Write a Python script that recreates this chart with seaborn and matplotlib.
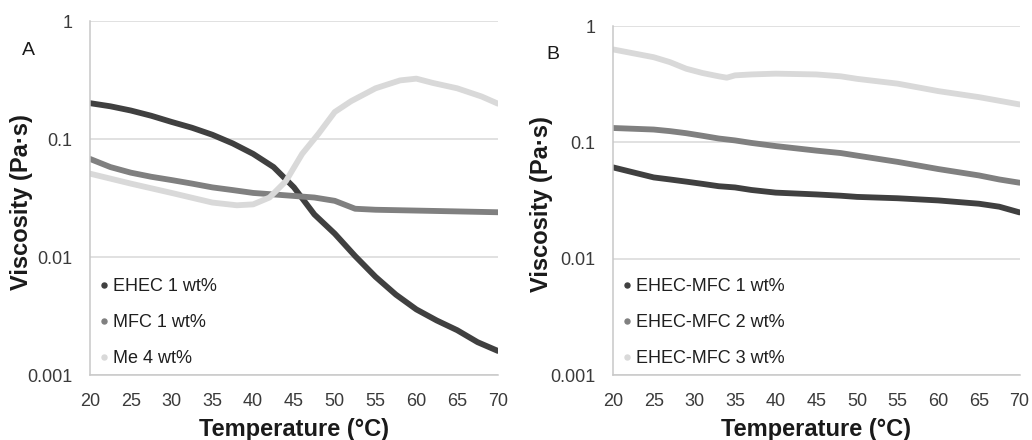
import numpy as np
import pandas as pd
import matplotlib
matplotlib.use("Agg")
import matplotlib.pyplot as plt
import seaborn as sns
from matplotlib.lines import Line2D
from matplotlib.ticker import FixedLocator, FixedFormatter, NullLocator

# ---------------- data ----------------
temp_a = [20, 22.5, 25, 27.5, 30, 32.5, 35, 37.5, 40, 42.5, 45, 47.5, 50, 52.5, 55,
          57.5, 60, 62.5, 65, 67.5, 70]
ehec_1 = [0.202, 0.19, 0.175, 0.158, 0.14, 0.125, 0.109, 0.092, 0.075, 0.058, 0.039,
          0.023, 0.0158, 0.0102, 0.0068, 0.0048, 0.0036, 0.0029, 0.0024, 0.0019, 0.0016]
mfc_1 = [0.068, 0.058, 0.052, 0.048, 0.045, 0.042, 0.039, 0.037, 0.035, 0.034, 0.033,
         0.032, 0.030, 0.0257, 0.0252, 0.025, 0.0248, 0.0246, 0.0244, 0.0242, 0.024]
temp_me = [20, 25, 30, 35, 38, 40, 42, 44, 46, 48, 50, 52, 55, 58, 60, 62, 65, 68, 70]
me_4 = [0.051, 0.042, 0.035, 0.029, 0.0275, 0.028, 0.032, 0.044, 0.075, 0.111, 0.17,
        0.21, 0.27, 0.315, 0.326, 0.30, 0.27, 0.23, 0.20]
labels_a = ["EHEC 1 wt%", "MFC 1 wt%", "Me 4 wt%"]

temp_b = [20, 25, 27, 29, 31, 33, 34, 35, 37, 40, 45, 48, 50, 55, 60, 65, 67.5, 70]
ehec_mfc_1 = [0.061, 0.050, 0.048, 0.046, 0.044, 0.042, 0.0415, 0.041, 0.039, 0.037,
              0.0357, 0.0348, 0.034, 0.0331, 0.0317, 0.0297, 0.028, 0.025]
ehec_mfc_2 = [0.133, 0.129, 0.125, 0.12, 0.114, 0.108, 0.106, 0.104, 0.099, 0.093,
              0.085, 0.081, 0.077, 0.068, 0.059, 0.052, 0.048, 0.045]
ehec_mfc_3 = [0.63, 0.54, 0.49, 0.43, 0.395, 0.37, 0.36, 0.377, 0.384, 0.39, 0.384,
              0.37, 0.352, 0.32, 0.276, 0.245, 0.228, 0.212]
labels_b = ["EHEC-MFC 1 wt%", "EHEC-MFC 2 wt%", "EHEC-MFC 3 wt%"]

x_ticks = [20, 25, 30, 35, 40, 45, 50, 55, 60, 65, 70]
y_ticks = [0.001, 0.01, 0.1, 1]
y_tick_labels = ["0.001", "0.01", "0.1", "1"]

colors = ["#404040", "#808080", "#d9d9d9"]

# ---------------- figure ----------------
sns.set_theme(style="white")
plt.rcParams["font.family"] = ["Liberation Sans", "DejaVu Sans"]

fig = plt.figure(figsize=(10.32, 4.4), dpi=100)
ax_a = fig.add_axes([0.0872, 0.1477, 0.3953, 0.804])
ax_b = fig.add_axes([0.594, 0.1477, 0.394, 0.793])

df_a = pd.concat([
    pd.DataFrame({"T": temp_a, "v": ehec_1, "s": labels_a[0]}),
    pd.DataFrame({"T": temp_a, "v": mfc_1, "s": labels_a[1]}),
    pd.DataFrame({"T": temp_me, "v": me_4, "s": labels_a[2]}),
])
df_b = pd.concat([
    pd.DataFrame({"T": temp_b, "v": ehec_mfc_1, "s": labels_b[0]}),
    pd.DataFrame({"T": temp_b, "v": ehec_mfc_2, "s": labels_b[1]}),
    pd.DataFrame({"T": temp_b, "v": ehec_mfc_3, "s": labels_b[2]}),
])

panels = [(ax_a, df_a, labels_a, "A", (-0.167, 0.918), -0.140),
          (ax_b, df_b, labels_b, "B", (-0.165, 0.918), -0.147)]
for ax, df, labels, letter, lpos, ylx in panels:
    sns.lineplot(data=df, x="T", y="v", hue="s", hue_order=labels,
                 palette=colors, linewidth=4.2, ax=ax, legend=False,
                 sort=False, estimator=None)
    ax.set_yscale("log")
    ax.set_xlim(20, 70)
    ax.set_ylim(0.001, 1)
    ax.xaxis.set_major_locator(FixedLocator(x_ticks))
    ax.yaxis.set_major_locator(FixedLocator(y_ticks))
    ax.yaxis.set_major_formatter(FixedFormatter(y_tick_labels))
    ax.yaxis.set_minor_locator(NullLocator())
    ax.tick_params(axis="both", which="both", length=0, labelsize=13,
                   colors="#3a3a3a")
    ax.tick_params(axis="y", pad=12.5)
    ax.tick_params(axis="x", pad=13)
    ax.grid(axis="y", color="#d9d9d9", linewidth=1.1)
    ax.grid(axis="x", visible=False)
    for sp in ["top", "right"]:
        ax.spines[sp].set_visible(False)
    for sp in ["left", "bottom"]:
        ax.spines[sp].set_color("#c8c8c8")
        ax.spines[sp].set_linewidth(1.1)
    ax.set_xlabel("Temperature (°C)", fontsize=17, fontweight="bold",
                  color="#1a1a1a")
    ax.set_ylabel("Viscosity (Pa·s)", fontsize=17, fontweight="bold",
                  color="#1a1a1a")
    ax.xaxis.set_label_coords(0.5, -0.122)
    ax.yaxis.set_label_coords(ylx, 0.49)
    ax.text(lpos[0], lpos[1], letter, transform=ax.transAxes, fontsize=14,
            color="#1a1a1a", ha="left", va="center")
    handles = [Line2D([], [], marker="o", linestyle="none", markersize=3.6,
                      color=c) for c in colors]
    ax.legend(handles, labels, loc="lower left", bbox_to_anchor=(0.0, 0.0),
              frameon=False, fontsize=13, handletextpad=0.25,
              labelspacing=1.05, handlelength=0.6, borderpad=0.2,
              borderaxespad=0.25, labelcolor="#1f1f1f")

fig.savefig("out.png", dpi=100)
